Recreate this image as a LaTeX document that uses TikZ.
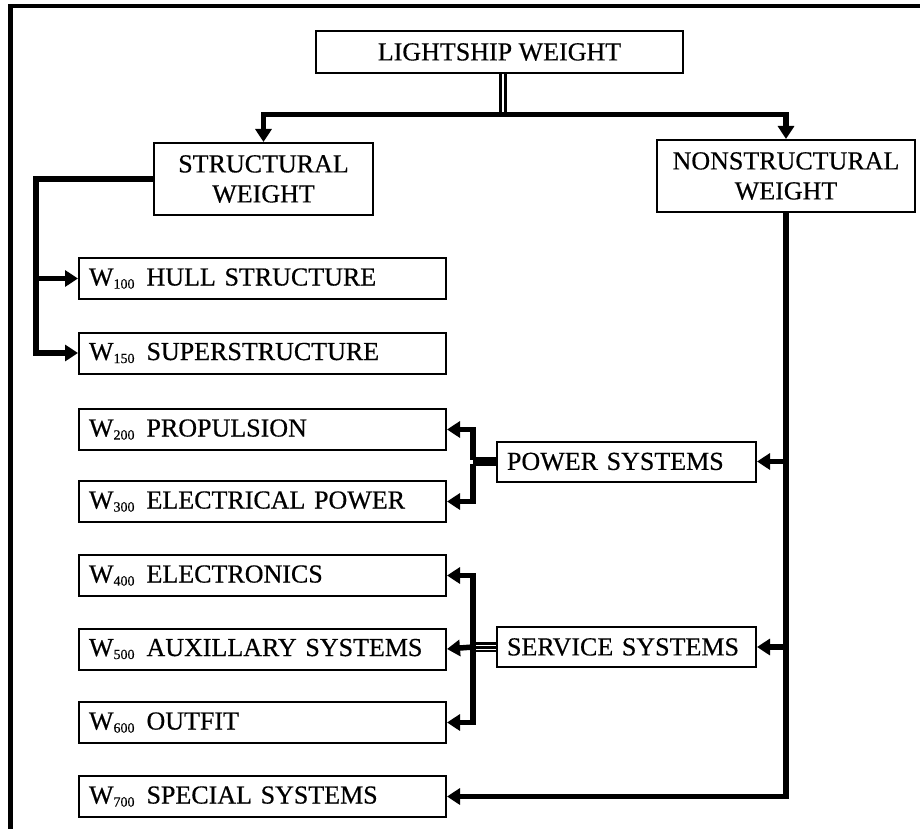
\documentclass[tikz,border=0pt]{standalone}
\usepackage{fontspec}
\setmainfont[FakeBold=0.5,AutoFakeBold=0.5]{Liberation Serif}
\usetikzlibrary{arrows.meta}
\newcommand{\wsub}[1]{W\raisebox{-3pt}{\fontsize{14}{14}\selectfont #1}\hspace{12pt}}
\begin{document}
\begin{tikzpicture}[x=1pt,y=-1pt,
  box/.style={draw, line width=2pt, inner sep=0pt, font=\fontsize{26}{30}\selectfont},
  hbox/.style={box, align=center},
  cbox/.style={box, minimum height=41pt, text width=347pt, align=left, inner xsep=10pt},
  sbox/.style={box, minimum height=40pt, text width=239pt, align=left, inner xsep=10pt},
  arr/.style={line width=5.5pt, line join=miter, -{Triangle[length=13pt,width=16pt]}},
  conn/.style={line width=5.5pt, line join=miter}]
\useasboundingbox (0,0) rectangle (920,829);
% border
\draw[line width=4pt] (8,6.5) -- (920,6.5);
\draw[line width=4.5pt] (10.25,4.5) -- (10.25,829);
% nodes
\node[hbox, minimum width=367pt, minimum height=42pt] (ls) at (499.5,52) {LIGHTSHIP WEIGHT};
\node[hbox, minimum width=219pt, minimum height=72pt] (sw) at (263.5,179) {STRUCTURAL\\WEIGHT};
\node[hbox, minimum width=258pt, minimum height=72pt] (nw) at (786,176) {NONSTRUCTURAL\\WEIGHT};
\node[cbox] (hull) at (262.5,278.5) {\wsub{100}HULL STRUCTURE};
\node[cbox] (sup) at (262.5,353) {\wsub{150}SUPERSTRUCTURE};
\node[cbox] (prop) at (262.5,429.5) {\wsub{200}PROPULSION};
\node[cbox] (elec) at (262.5,501.5) {\wsub{300}ELECTRICAL POWER};
\node[cbox] (tron) at (262.5,575.5) {\wsub{400}ELECTRONICS};
\node[cbox] (aux) at (262.5,649) {\wsub{500}AUXILLARY SYSTEMS};
\node[cbox] (outf) at (262.5,722.5) {\wsub{600}OUTFIT};
\node[cbox] (spec) at (262.5,796.5) {\wsub{700}SPECIAL SYSTEMS};
\node[sbox] (pow) at (626.5,461.5) {POWER SYSTEMS};
\node[sbox] (serv) at (626.5,647) {SERVICE SYSTEMS};
% junctions
\coordinate (tj) at (502.5,114.5);
\coordinate (pj) at (473,461.5);
\coordinate (sj) at (473,647);
% top connectors
\draw[line width=3pt, double=white, double distance=2pt] (ls.south -| tj) -- ([yshift=-1pt]tj);
\draw[arr] (tj) -| (sw.north);
\draw[arr] (tj) -| (nw.north);
% structural branch
\draw[arr] (sw.west) -- ++(-117,0) |- (hull.west);
\draw[arr] (sw.west) -- ++(-117,0) |- (sup.west);
% nonstructural trunk
\draw[arr] (nw.south) |- (spec.east);
\draw[arr] (nw.south |- pow.east) -- (pow.east);
\draw[arr] (nw.south |- serv.east) -- (serv.east);
% power systems
\draw[line width=9pt] (pow.west) -- (pj);
\draw[arr] ([yshift=2pt]pj) |- (prop.east);
\draw[arr] ([yshift=-2pt]pj) |- (elec.east);
% service systems
\draw[line width=10pt] (serv.west) -- (sj);
\draw[white, line width=1pt, double=black, double distance=3pt] (serv.west) -- (sj);
\draw[arr] (sj) |- (tron.east);
\draw[arr] (sj) |- (outf.east);
\draw[arr] (sj) -- (aux.east);
\end{tikzpicture}
\end{document}
